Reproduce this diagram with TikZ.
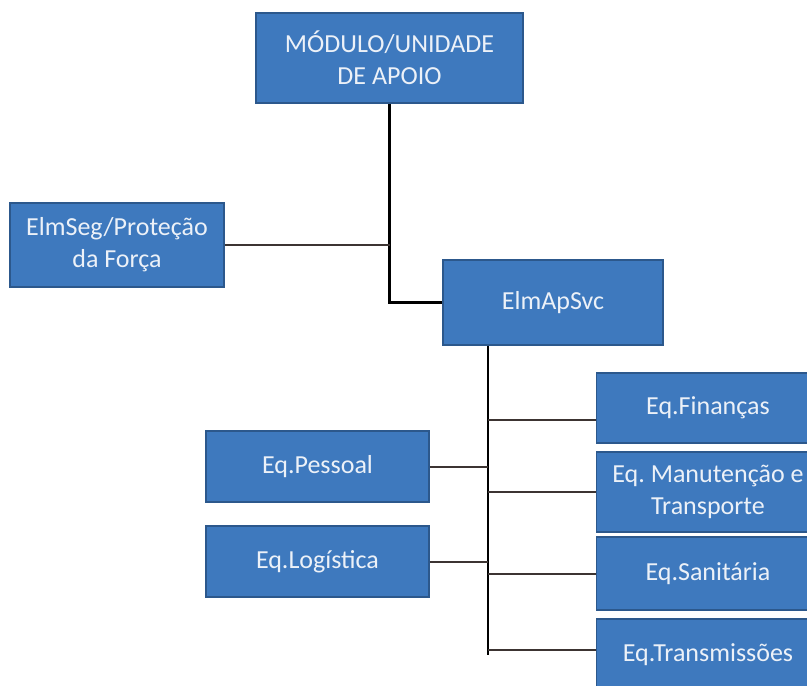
\documentclass[tikz,border=0pt]{standalone}
\usepackage{fontspec}
\setmainfont{Carlito}
\usepackage{xcolor}
\usetikzlibrary{positioning, calc}
\frenchspacing

\definecolor{boxblue}{RGB}{62,121,190}
\definecolor{boxedge}{RGB}{44,88,140}
\definecolor{boxtext}{RGB}{236,241,248}
\definecolor{branchgray}{RGB}{60,52,50}

\begin{document}
\begin{tikzpicture}[
        x=1pt, y=-1pt,
        % Define styles for the org chart elements
        unit/.style={rectangle, draw=boxedge, line width=1.5pt, fill=boxblue, text=boxtext,
            minimum width=223pt, minimum height=71pt, inner sep=2pt, align=center,
            font=\fontsize{26}{32}\selectfont},
        trunk/.style={draw=black, line width=2.8pt},
        branch/.style={draw=branchgray, line width=2pt}
    ]
        \useasboundingbox (0,0) rectangle (807,686);
        \clip (0,0) rectangle (807,686);

        % --------------------------------------------------------
        % LEVEL 0: Support module
        % --------------------------------------------------------
        \node[unit, minimum width=267pt, minimum height=90pt] (modulo) at (389.5,58) {MÓDULO/UNIDADE\\DE APOIO};

        % --------------------------------------------------------
        % LEVEL 1: Security element and service element
        % --------------------------------------------------------
        \node[unit, minimum width=214pt, minimum height=84pt] (elmseg) at (117,245) {ElmSeg/Proteção\\da Força};
        \node[unit, minimum width=220pt, minimum height=85pt] (elmapsvc) at (553,302.5) {ElmApSvc};

        \draw[trunk] (modulo.south) |- (elmapsvc.west);
        \draw[branch] (elmseg.east) -- (elmseg.east -| modulo.south);

        % --------------------------------------------------------
        % LEVEL 2: Teams
        % --------------------------------------------------------
        \node[unit] (pessoal) at (317.5,466.5) {Eq.Pessoal};
        \node[unit] (logistica) at (317.5,561.5) {Eq.Logística};

        \node[unit, minimum height=70pt] (financas) at (708,408) {Eq.Finanças};
        \node[unit, minimum height=80pt] (manutencao) at (708,492) {Eq. Manutenção e\\Transporte};
        \node[unit, minimum height=73pt] (sanitaria) at (708,573.5) {Eq.Sanitária};
        \node[unit, minimum height=72pt] (transmissoes) at (708,655) {Eq.Transmissões};

        % Service trunk
        \coordinate (svcbase) at ([xshift=-65pt]elmapsvc.south);
        \coordinate (svcend) at (svcbase |- 0,655);
        \draw[trunk] (svcbase) -- (svcend);

        % Branches to the teams
        \draw[branch] (pessoal.east) -- (pessoal.east -| svcbase);
        \draw[branch] (logistica.east) -- (logistica.east -| svcbase);
        \draw[branch] ([yshift=-12pt]financas.west) -- ([yshift=-12pt]financas.west -| svcbase);
        \draw[branch] (manutencao.west) -- (manutencao.west -| svcbase);
        \draw[branch] (sanitaria.west) -- (sanitaria.west -| svcbase);
        \draw[branch] ([yshift=5pt]transmissoes.west) -- ([yshift=5pt]transmissoes.west -| svcbase);

    \end{tikzpicture}
\end{document}
